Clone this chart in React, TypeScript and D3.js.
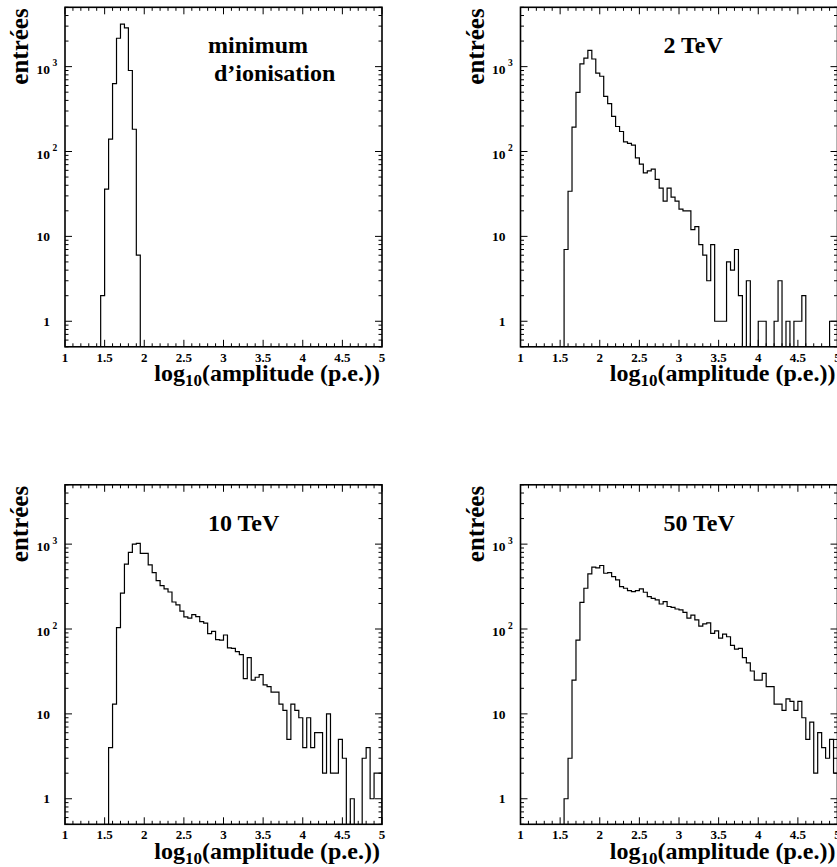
import React from "react";
import * as d3 from "d3";

// ---------- data ----------
const BIN_WIDTH = 0.05;
const X_MIN = 1;
const X_MAX = 5;
const Y_MIN = 0.5;
const Y_MAX = 5000;

// minimum d'ionisation, first bin starts at 1.45
const mipStart = 1.45;
const mipCounts = [2, 36, 140, 630, 2160, 3160, 2860, 900, 183, 6];

// 2 TeV, first bin starts at 1.55
const tev2Start = 1.55;
const tev2Counts = [
  7, 34, 194, 498, 1075, 1260, 1550, 1230, 840, 770, 445, 366, 259, 197, 172, 130,
  125, 119, 84, 71, 56, 59, 62, 47, 37, 26, 37, 29, 26, 21, 20, 20,
  12, 13, 8, 6, 3, 8, 1, 1, 1, 5, 4, 7, 2, 0, 3, 0, 0, 1, 1, 0, 0, 1, 3, 0, 1, 0,
  1, 1, 2, 0, 0, 0, 0, 0, 0, 1, 1,
];

// 10 TeV, first bin starts at 1.55
const tev10Start = 1.55;
const tev10Counts = [
  4, 13, 104, 265, 580, 800, 1000, 1020, 780, 780, 570, 462, 372, 325, 297, 273,
  208, 192, 162, 139, 134, 148, 140, 122, 117, 88, 94, 75, 74, 85, 60, 59, 54, 50,
  26, 46, 25, 27, 29, 22, 21, 18, 18, 13, 11, 5, 13, 11, 9, 4, 9, 4, 6, 6, 2, 10,
  2, 2, 5, 3, 0, 1, 0, 0, 3, 4, 1, 2, 2,
];

// 50 TeV, first bin starts at 1.55
const tev50Start = 1.55;
const tev50Counts = [
  1, 3, 25, 74, 206, 302, 445, 535, 525, 560, 454, 462, 415, 379, 316, 302, 284,
  276, 284, 297, 271, 241, 230, 220, 197, 210, 184, 180, 172, 168, 157, 134, 146,
  128, 108, 115, 118, 89, 95, 78, 87, 81, 64, 58, 59, 46, 40, 32, 25, 25, 30, 21,
  21, 13, 13, 11, 15, 14, 11, 14, 9, 5, 8, 2, 6, 4, 3, 5, 2,
];

const xTickLabels = ["1", "1.5", "2", "2.5", "3", "3.5", "4", "4.5", "5"];
const yLabelValues = [1, 10, 100, 1000];
const yLabelBases = ["1", "10", "10", "10"];
const yLabelExps = ["", "", "2", "3"];

const panelTitles = [
  ["minimum", " d\u2019ionisation"],
  ["2 TeV"],
  ["10 TeV"],
  ["50 TeV"],
];

const FONT = "Liberation Serif, Tinos, Times New Roman, Times, DejaVu Serif, serif";

type PanelProps = {
  id: string;
  x0: number;
  y0: number;
  start: number;
  counts: number[];
  title: string[];
  titleDx: number;
};

const W = 317;
const H = 339.5;

function Panel({ id, x0, y0, start, counts, title, titleDx }: PanelProps) {
  const x1 = x0 + W;
  const y1 = y0 + H;
  const x = d3.scaleLinear().domain([X_MIN, X_MAX]).range([x0, x1]);
  const y = d3.scaleLog().domain([Y_MIN, Y_MAX]).range([y1, y0]);

  const nBins = Math.round((X_MAX - X_MIN) / BIN_WIDTH);
  const startIdx = Math.round((start - X_MIN) / BIN_WIDTH);
  const full: number[] = d3.range(nBins).map((i) => {
    const k = i - startIdx;
    return k >= 0 && k < counts.length ? counts[k] : 0;
  });
  const pts: [number, number][] = [[X_MIN, Y_MIN]];
  full.forEach((v, i) => {
    const lo = X_MIN + i * BIN_WIDTH;
    const hi = lo + BIN_WIDTH;
    const vv = v > 0 ? v : Y_MIN * 0.5;
    pts.push([lo, vv]);
    pts.push([hi, vv]);
  });
  pts.push([X_MAX, Y_MIN * 0.5]);
  const line = d3
    .line<[number, number]>()
    .x((d) => x(d[0]))
    .y((d) => y(d[1]));
  const path = line(pts) || "";

  const xTicks = d3.range(0, 41).map((i) => X_MIN + i * 0.1);
  const yTicks: number[] = [];
  for (let e = -1; e <= 3; e++) {
    for (let m = 1; m <= 9; m++) {
      const v = m * Math.pow(10, e);
      if (v >= Y_MIN - 1e-9 && v <= Y_MAX + 1e-9) yTicks.push(v);
    }
  }
  const MAJ = 7;
  const MIN = 3.5;

  const textStyle = { fontFamily: FONT, fontWeight: 700 as const };

  return (
    <g>
      <defs>
        <clipPath id={id}>
          <rect x={x0} y={y0} width={W} height={H} />
        </clipPath>
      </defs>
      <path
        d={path}
        fill="none"
        stroke="#000"
        strokeWidth={1.2}
        clipPath={`url(#${id})`}
      />
      {xTicks.map((t, i) => {
        const major = i % 5 === 0;
        const L = major ? MAJ : MIN;
        const px = x(t);
        return (
          <g key={"xt" + i}>
            <line x1={px} x2={px} y1={y1} y2={y1 - L} stroke="#000" strokeWidth={1} />
            <line x1={px} x2={px} y1={y0} y2={y0 + L} stroke="#000" strokeWidth={1} />
          </g>
        );
      })}
      {yTicks.map((t, i) => {
        const lg = Math.log10(t);
        const major = Math.abs(lg - Math.round(lg)) < 1e-9;
        const L = major ? MAJ : MIN;
        const py = y(t);
        return (
          <g key={"yt" + i}>
            <line x1={x0} x2={x0 + L} y1={py} y2={py} stroke="#000" strokeWidth={1} />
            <line x1={x1} x2={x1 - L} y1={py} y2={py} stroke="#000" strokeWidth={1} />
          </g>
        );
      })}
      <rect x={x0} y={y0} width={W} height={H} fill="none" stroke="#000" strokeWidth={1.6} />
      {xTickLabels.map((lab, i) => (
        <text
          key={"xl" + i}
          x={x(+lab)}
          y={y1 + 15}
          textAnchor="middle"
          style={{ ...textStyle, fontSize: 13 }}
        >
          {lab}
        </text>
      ))}
      {yLabelValues.map((v, i) => {
        const py = y(v);
        const exp = yLabelExps[i];
        return (
          <g key={"yl" + i}>
            <text
              x={x0 - 15}
              y={exp ? py + 7.3 : py + 4.7}
              textAnchor="end"
              style={{ ...textStyle, fontSize: 13.5 }}
            >
              {yLabelBases[i]}
            </text>
            {exp && (
              <text
                x={x0 - 12.5}
                y={py - 0.5}
                textAnchor="start"
                style={{ ...textStyle, fontSize: 9.5 }}
              >
                {exp}
              </text>
            )}
          </g>
        );
      })}
      <text
        x={x1 - 2}
        y={y1 + 34.5}
        textAnchor="end"
        style={{ ...textStyle, fontSize: 24 }}
      >
        log
        <tspan style={{ fontSize: 17 }} dy={5}>
          10
        </tspan>
        <tspan dy={-5}>(amplitude (p.e.))</tspan>
      </text>
      <text
        transform={`translate(${x0 - 37},${y0 + 1}) rotate(-90)`}
        textAnchor="end"
        style={{ ...textStyle, fontSize: 25 }}
      >
        entrées
      </text>
      {title.map((t, i) => (
        <text
          key={"ti" + i}
          x={x0 + titleDx}
          y={y0 + 46 + i * 28}
          style={{ ...textStyle, fontSize: 24, whiteSpace: "pre" }}
        >
          {t}
        </text>
      ))}
    </g>
  );
}

export default function App() {
  const leftX = 65;
  const rightX = 520.5;
  const topY = 7.3;
  const botY = 484.8;
  return (
    <svg
      width={837}
      height={867}
      viewBox="0 0 837 867"
      style={{ position: "absolute", left: 0, top: 0, background: "#fff" }}
    >
      <rect x={0} y={0} width={837} height={867} fill="#fff" />
      <Panel id="c1" x0={leftX} y0={topY} start={mipStart} counts={mipCounts} title={panelTitles[0]} titleDx={143} />
      <Panel id="c2" x0={rightX} y0={topY} start={tev2Start} counts={tev2Counts} title={panelTitles[1]} titleDx={143} />
      <Panel id="c3" x0={leftX} y0={botY} start={tev10Start} counts={tev10Counts} title={panelTitles[2]} titleDx={143} />
      <Panel id="c4" x0={rightX} y0={botY} start={tev50Start} counts={tev50Counts} title={panelTitles[3]} titleDx={143} />
    </svg>
  );
}
